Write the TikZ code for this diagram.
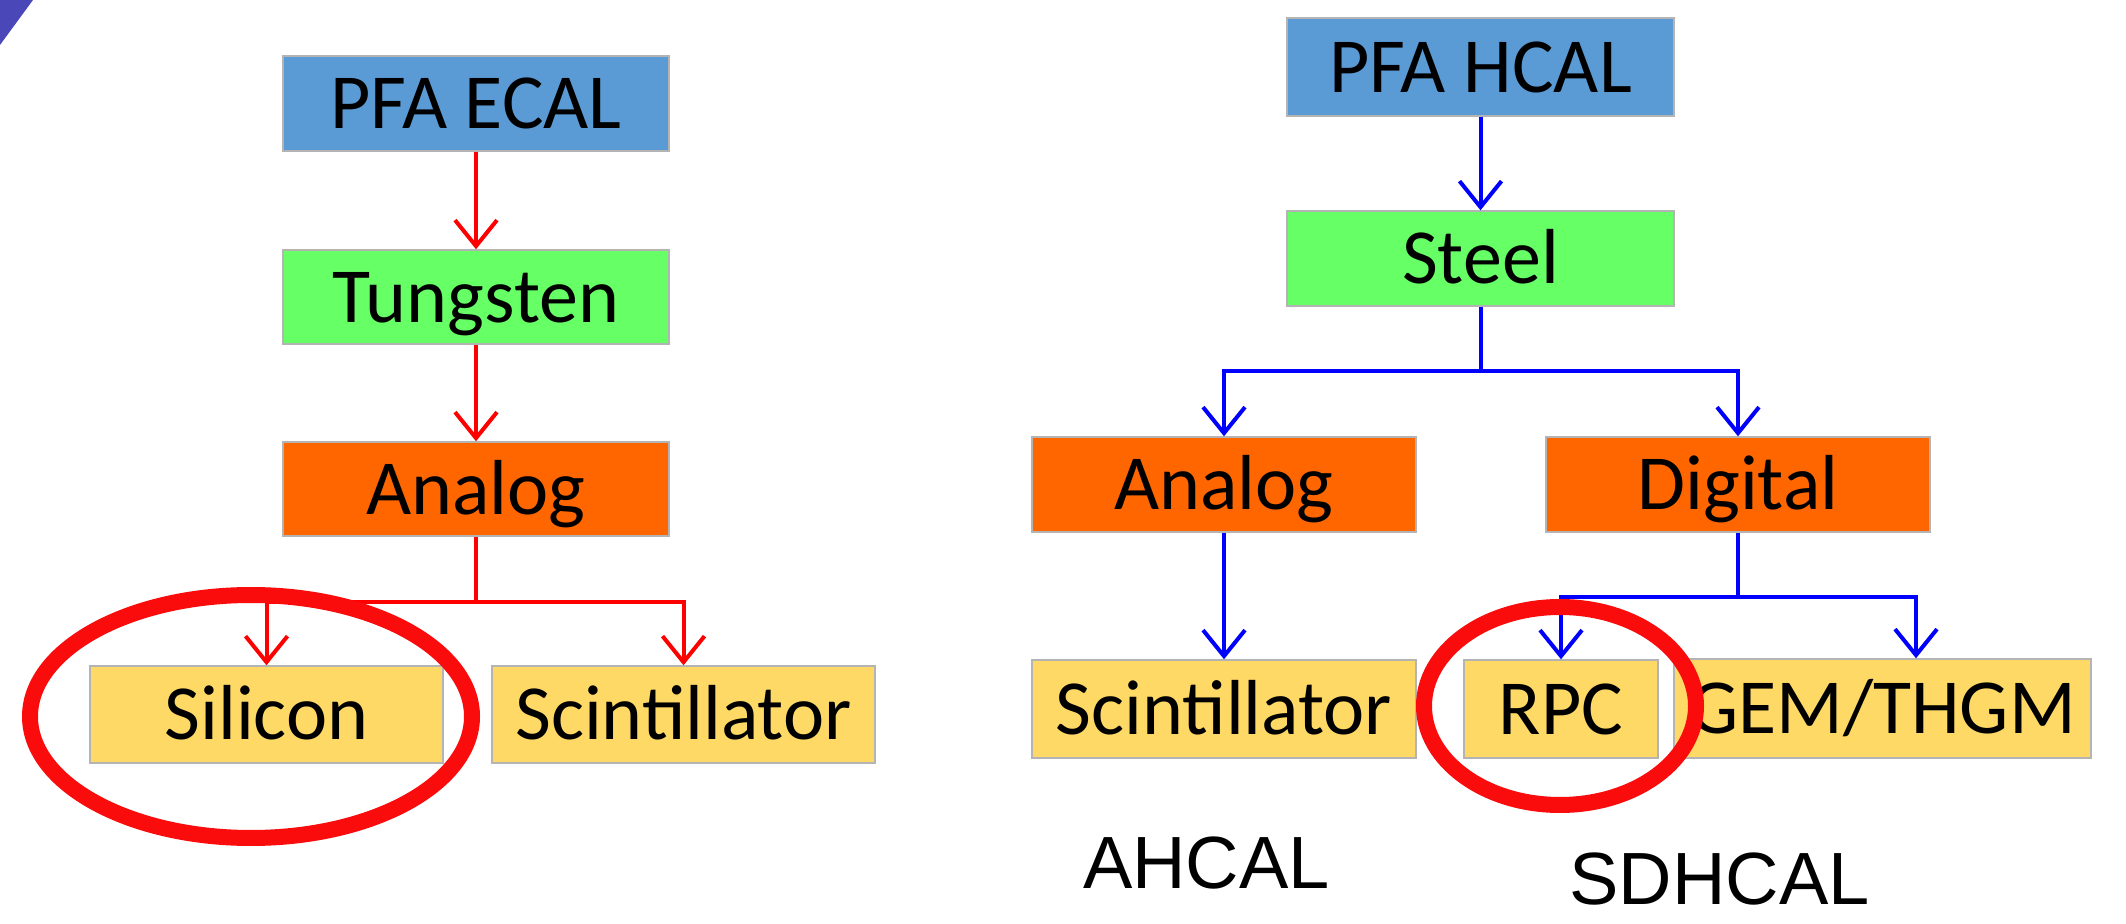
\documentclass[tikz,border=0pt]{standalone}
\usepackage{fontspec}
\setmainfont{Carlito}
\newfontfamily\labelfont{Liberation Sans}
\usetikzlibrary{arrows.meta}

\definecolor{hdrblue}{RGB}{91,155,213}
\definecolor{absgreen}{RGB}{102,255,102}
\definecolor{readorange}{RGB}{255,102,0}
\definecolor{sensyellow}{RGB}{255,217,102}
\definecolor{edgegray}{RGB}{180,180,180}
\definecolor{arrred}{RGB}{255,0,0}
\definecolor{arrblue}{RGB}{0,0,255}
\definecolor{ringred}{RGB}{250,12,12}
\definecolor{cornerpurple}{RGB}{74,72,184}

\tikzset{
  box/.style={draw=edgegray, line width=0.7pt, inner sep=0pt,
    font=\fontsize{39}{42}\selectfont, text height=25.1pt, text depth=0pt},
  wide/.style={minimum width=193pt},
  tall/.style={minimum height=#1},
  toplevel/.style={box, fill=hdrblue},
  absorber/.style={box, fill=absgreen},
  readout/.style={box, fill=readorange},
  sensor/.style={box, fill=sensyellow},
  barb/.style={-{Straight Barb[length=13pt,width=21pt]}},
  redline/.style={draw=arrred, line width=2pt},
  blueline/.style={draw=arrblue, line width=2pt},
  ring/.style={draw=ringred, line width=8pt},
  caption/.style={font=\labelfont\fontsize{37}{40}\selectfont, inner sep=0pt,
    text height=26.5pt, text depth=0pt},
}

\begin{document}
\begin{tikzpicture}[x=0.5pt, y=-0.5pt]
\useasboundingbox (0,0) rectangle (2126,924);

% corner decoration
\fill[cornerpurple] (0,0) -- (33,0) -- (0,45) -- cycle;

% ---- ECAL tree ----
\node[toplevel, wide, tall=47.5pt] (ecal) at (476,103.5) {PFA ECAL};
\node[absorber, wide, tall=47pt] (tung) at (476,297) {Tungsten};
\node[readout, wide, tall=47pt] (anaL) at (476,489) {Analog};
\node[sensor, minimum width=176.5pt, tall=48.5pt] (sil) at (266.5,714.5) {Silicon};
\node[sensor, minimum width=191.5pt, tall=48.5pt] (sciL) at (683.5,714.5) {Scintillator};

\draw[redline, barb] (ecal) -- (tung);
\draw[redline, barb] (tung) -- (anaL);
\coordinate (jL) at (476,602);
\draw[redline] (anaL.south) -- (jL);
\draw[redline, barb] (jL) -| (sil.north);
\draw[redline, barb] (jL) -| (sciL.north);

% ---- HCAL tree ----
\node[toplevel, minimum width=193.5pt, tall=49pt] (hcal) at (1480.5,67) {PFA HCAL};
\node[absorber, minimum width=193.5pt, tall=47.5pt] (steel) at (1480.5,258.5) {Steel};
\node[readout, minimum width=192pt, tall=47.5pt] (anaR) at (1224,484.5) {Analog};
\node[readout, minimum width=192pt, tall=47.5pt] (dig) at (1738,484.5) {Digital};
\node[sensor, minimum width=192pt, tall=49pt] (sciR) at (1224,709) {Scintillator};
\node[sensor, minimum width=97pt, tall=49pt] (rpc) at (1561,709) {RPC};
\node[sensor, minimum width=208.5pt, tall=49.5pt] (gem) at (1882.5,708.5) {GEM/THGM};

\draw[blueline, barb] (hcal) -- (steel);
\coordinate (jS) at (1480.5,371);
\draw[blueline] (steel.south) -- (jS);
\draw[blueline, barb] (jS) -| (anaR.north);
\draw[blueline, barb] (jS) -| (dig.north);
\draw[blueline, barb] (anaR) -- (sciR);
\coordinate (jD) at (1738,597);
\draw[blueline] (dig.south) -- (jD);
\draw[blueline, barb] (jD) -| (rpc.north);
\draw[blueline, barb] (jD) -| ([xshift=16.75pt]gem.north);

% highlight rings
\draw[ring] (251,716.5) ellipse [x radius=110.5pt, y radius=60.75pt];
\draw[ring] (1560,706) ellipse [x radius=68pt, y radius=49.5pt];

% detector names
\node[caption] (ahcal) at (1206.5,862) {AHCAL};
\node[caption] (sdhcal) at (1719.5,878) {SDHCAL};
\end{tikzpicture}
\end{document}
